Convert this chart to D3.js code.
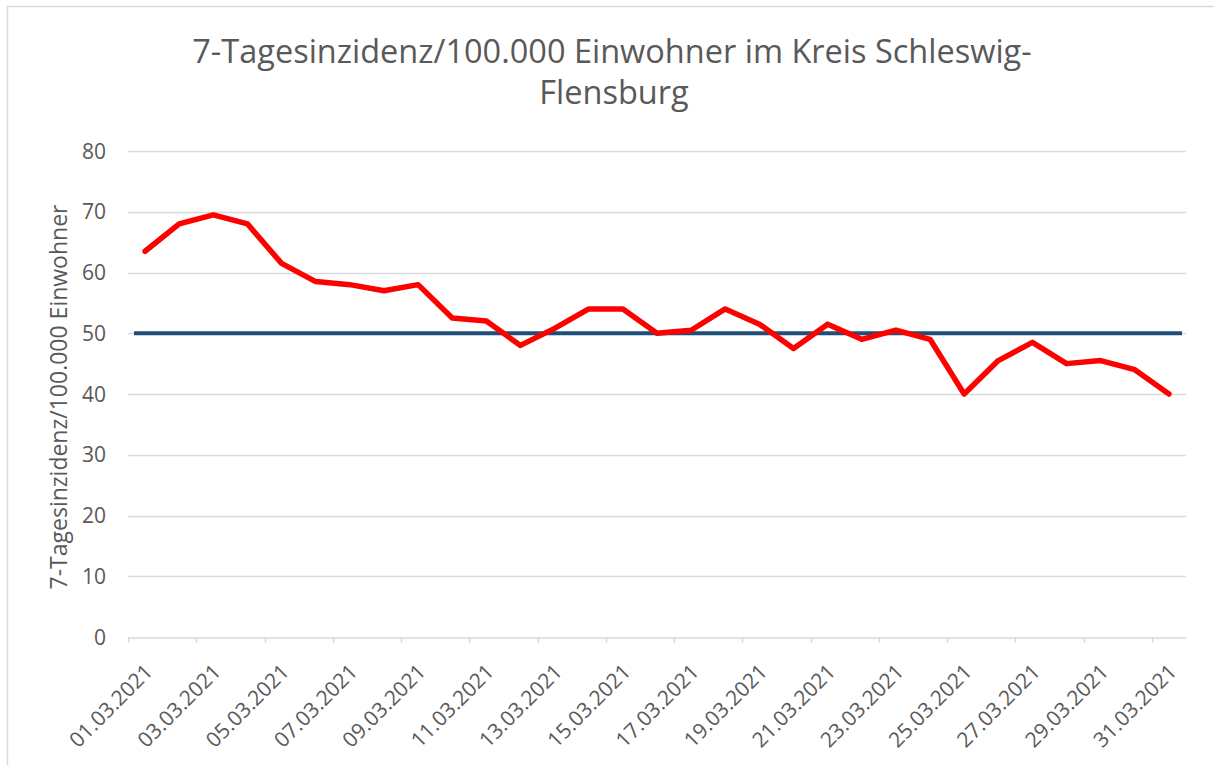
<!DOCTYPE html>
<html><head><meta charset="utf-8">
<script src="https://cdn.jsdelivr.net/npm/d3@7"></script>
<style>html,body{margin:0;padding:0;background:#fff;} svg{display:block;}</style>
</head><body>
<script>
const titleLines = ["7-Tagesinzidenz/100.000 Einwohner im Kreis Schleswig-", "Flensburg"];
const yAxisTitle = "7-Tagesinzidenz/100.000 Einwohner";
const dates = ["01.03.2021","02.03.2021","03.03.2021","04.03.2021","05.03.2021","06.03.2021","07.03.2021","08.03.2021","09.03.2021","10.03.2021","11.03.2021","12.03.2021","13.03.2021","14.03.2021","15.03.2021","16.03.2021","17.03.2021","18.03.2021","19.03.2021","20.03.2021","21.03.2021","22.03.2021","23.03.2021","24.03.2021","25.03.2021","26.03.2021","27.03.2021","28.03.2021","29.03.2021","30.03.2021","31.03.2021"];
const incidence = [63.5,68,69.5,68,61.5,58.5,58,57,58,52.5,52,48,50.8,54,54,50,50.5,54,51.5,47.5,51.5,49,50.5,49,40,45.5,48.5,45,45.5,44,40];
const threshold = 50;
const yTicks = [0,10,20,30,40,50,60,70,80];

const W = 1214, H = 765;
const m = {left:128, right:1186, top:151, bottom:637};
const font = "'Open Sans', 'Noto Sans', sans-serif";
const gray = "#595959", grid = "#d9d9d9";

const svg = d3.select("body").append("svg").attr("width", W).attr("height", H);

// chart border (top & left visible)
svg.append("path").attr("d", `M7.5,${H} V6.5 H${W}`).attr("fill","none").attr("stroke",grid).attr("stroke-width",1.5);

const x = d3.scaleBand().domain(dates).range([m.left, m.right]).paddingInner(0).paddingOuter(0);
const y = d3.scaleLinear().domain([0,80]).range([m.bottom, m.top]);
const cx = d => x(d) + x.bandwidth()/2;

// gridlines
svg.append("g").selectAll("line").data(yTicks.filter(t=>t>0)).join("line")
  .attr("x1", m.left).attr("x2", m.right)
  .attr("y1", d=>Math.round(y(d))+0.5).attr("y2", d=>Math.round(y(d))+0.5)
  .attr("stroke", grid).attr("stroke-width", 1.3);

// y tick labels
svg.append("g").selectAll("text").data(yTicks).join("text")
  .attr("x", 106).attr("y", d=>y(d)).attr("dy","0.36em")
  .attr("text-anchor","end").attr("font-family",font).attr("font-size",21)
  .attr("fill",gray).text(d=>d);

// x axis
const xAxis = d3.axisBottom(x)
  .tickValues(dates.filter((d,i)=>i%2===0))
  .tickSize(0).tickFormat("");
const gx = svg.append("g").attr("transform",`translate(0,${Math.round(y(0))+0.5})`).call(xAxis);
gx.select(".domain").attr("stroke",grid).attr("stroke-width",1.5);
// tick marks at category boundaries
svg.append("g").selectAll("line").data(dates.filter((d,i)=>i%2===0)).join("line")
  .attr("x1", d=>Math.round(x(d))+0.5).attr("x2", d=>Math.round(x(d))+0.5)
  .attr("y1", y(0)).attr("y2", y(0)+6)
  .attr("stroke",grid).attr("stroke-width",1.5);
// rotated labels
svg.append("g").selectAll("text").data(dates.filter((d,i)=>i%2===0)).join("text")
  .attr("transform", d=>`translate(${cx(d)+9},${y(0)+36}) rotate(-45)`)
  .attr("text-anchor","end").attr("font-family",font).attr("font-size",21)
  .attr("fill",gray).text(d=>d);

// y axis title
svg.append("text").attr("transform",`translate(67,397) rotate(-90)`)
  .attr("text-anchor","middle").attr("font-family",font).attr("font-size",23)
  .attr("fill",gray).text(yAxisTitle);

// title
const t1 = svg.append("text").attr("x",612).attr("y",63).attr("text-anchor","middle")
  .attr("font-family",font).attr("font-size",32.5).attr("fill",gray).text(titleLines[0]);
svg.append("text").attr("x",614).attr("y",104).attr("text-anchor","middle")
  .attr("font-family",font).attr("font-size",32.5).attr("fill",gray).text(titleLines[1]);
const len = t1.node().getComputedTextLength();
if (len > 845) t1.attr("textLength", 837).attr("lengthAdjust","spacingAndGlyphs");

// threshold line
svg.append("line")
  .attr("x1", m.left+6).attr("x2", m.right-4)
  .attr("y1", y(threshold)).attr("y2", y(threshold))
  .attr("stroke","#1F4E79").attr("stroke-width",4);

// incidence line
const line = d3.line().x((d,i)=>cx(dates[i])).y(d=>y(d));
svg.append("path").datum(incidence).attr("d", line)
  .attr("fill","none").attr("stroke","#FF0000").attr("stroke-width",5.5)
  .attr("stroke-linejoin","round").attr("stroke-linecap","round");
</script>
</body></html>
